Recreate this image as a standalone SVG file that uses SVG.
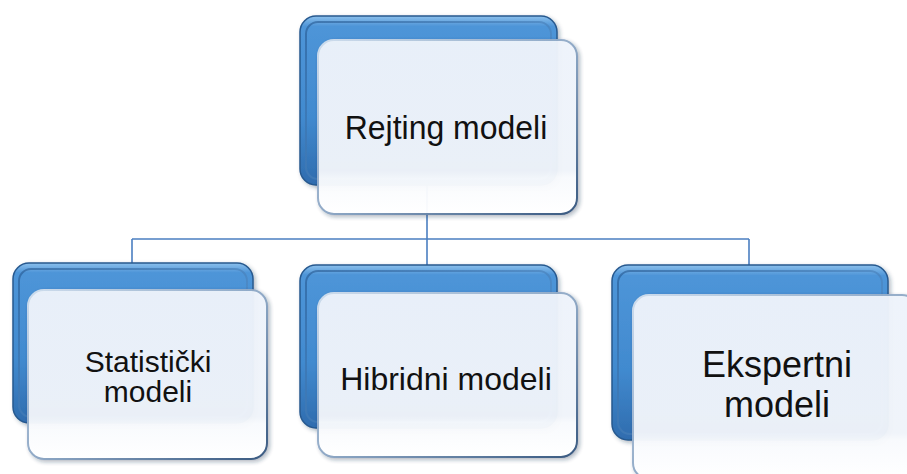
<svg xmlns="http://www.w3.org/2000/svg" width="907" height="474" viewBox="0 0 907 474">
<defs>
<linearGradient id="blueGrad" x1="0" y1="0" x2="0" y2="1">
<stop offset="0" stop-color="#8cc0ec"/>
<stop offset="0.06" stop-color="#4e95d8"/>
<stop offset="0.6" stop-color="#418acf"/>
<stop offset="1" stop-color="#2f6cae"/>
</linearGradient>
<linearGradient id="blueInner" x1="0" y1="0" x2="1" y2="1">
<stop offset="0" stop-color="#24568e"/>
<stop offset="1" stop-color="#6aa6e0"/>
</linearGradient>
<linearGradient id="glassGrad" x1="0" y1="0" x2="0" y2="1">
<stop offset="0" stop-color="#eef3fb"/>
<stop offset="0.75" stop-color="#f0f4fa"/>
<stop offset="0.79" stop-color="#f8fafd"/>
<stop offset="1" stop-color="#ffffff"/>
</linearGradient>
<linearGradient id="glassStroke" x1="0" y1="0" x2="1" y2="1">
<stop offset="0" stop-color="#d3e0ee"/>
<stop offset="0.5" stop-color="#8ea8c6"/>
<stop offset="1" stop-color="#34557e"/>
</linearGradient>
<filter id="shadow" x="-10%" y="-10%" width="125%" height="125%">
<feDropShadow dx="2" dy="2" stdDeviation="2" flood-color="#1f3550" flood-opacity="0.35"/>
</filter>
</defs>
<style>
.back{fill:url(#blueGrad);stroke:#27598f;stroke-width:1.5;filter:url(#shadow)}
.backIn{fill:none;stroke:url(#blueInner);stroke-width:2;opacity:0.6}
.front{fill:url(#glassGrad);stroke:url(#glassStroke);stroke-width:2;opacity:0.97;filter:url(#shadow)}
.conn{stroke:#4b7fc1;stroke-width:1.6;fill:none}
.lbl{font-family:"Liberation Sans",Arial,sans-serif;fill:#111;text-anchor:middle}
</style>
<g id="connectors">
<path class="conn" d="M427 185 V239 M132 239 H749 M132 239 V264 M427 239 V266 M749 239 V266"/>
</g>
<g id="node-rejting">
<rect class="back" x="300" y="16" width="257" height="169" rx="16"/>
<rect class="backIn" x="306" y="22" width="245" height="157" rx="12"/>
<rect class="front" x="318" y="40" width="259" height="174" rx="16"/>
<text class="lbl" x="446" y="139" font-size="32" transform="translate(0,-6.95) scale(1,1.05)">Rejting modeli</text>
</g>
<g id="node-statisticki">
<rect class="back" x="13" y="263" width="240" height="160" rx="16"/>
<rect class="backIn" x="19" y="269" width="228" height="148" rx="12"/>
<rect class="front" x="28" y="290" width="239" height="169" rx="16"/>
<text class="lbl" font-size="30"><tspan x="148" y="372">Statistički</tspan><tspan x="148" y="402">modeli</tspan></text>
</g>
<g id="node-hibridni">
<rect class="back" x="300" y="265" width="257" height="163" rx="16"/>
<rect class="backIn" x="306" y="271" width="245" height="151" rx="12"/>
<rect class="front" x="318" y="293" width="259" height="164" rx="16"/>
<text class="lbl" x="446" y="390" font-size="32">Hibridni modeli</text>
</g>
<g id="node-ekspertni">
<rect class="back" x="612" y="265" width="276" height="175" rx="16"/>
<rect class="backIn" x="618" y="271" width="264" height="163" rx="12"/>
<rect class="front" x="633" y="295" width="285" height="184" rx="16"/>
<text class="lbl" font-size="36"><tspan x="777" y="377">Ekspertni</tspan><tspan x="777" y="417">modeli</tspan></text>
</g>
</svg>
